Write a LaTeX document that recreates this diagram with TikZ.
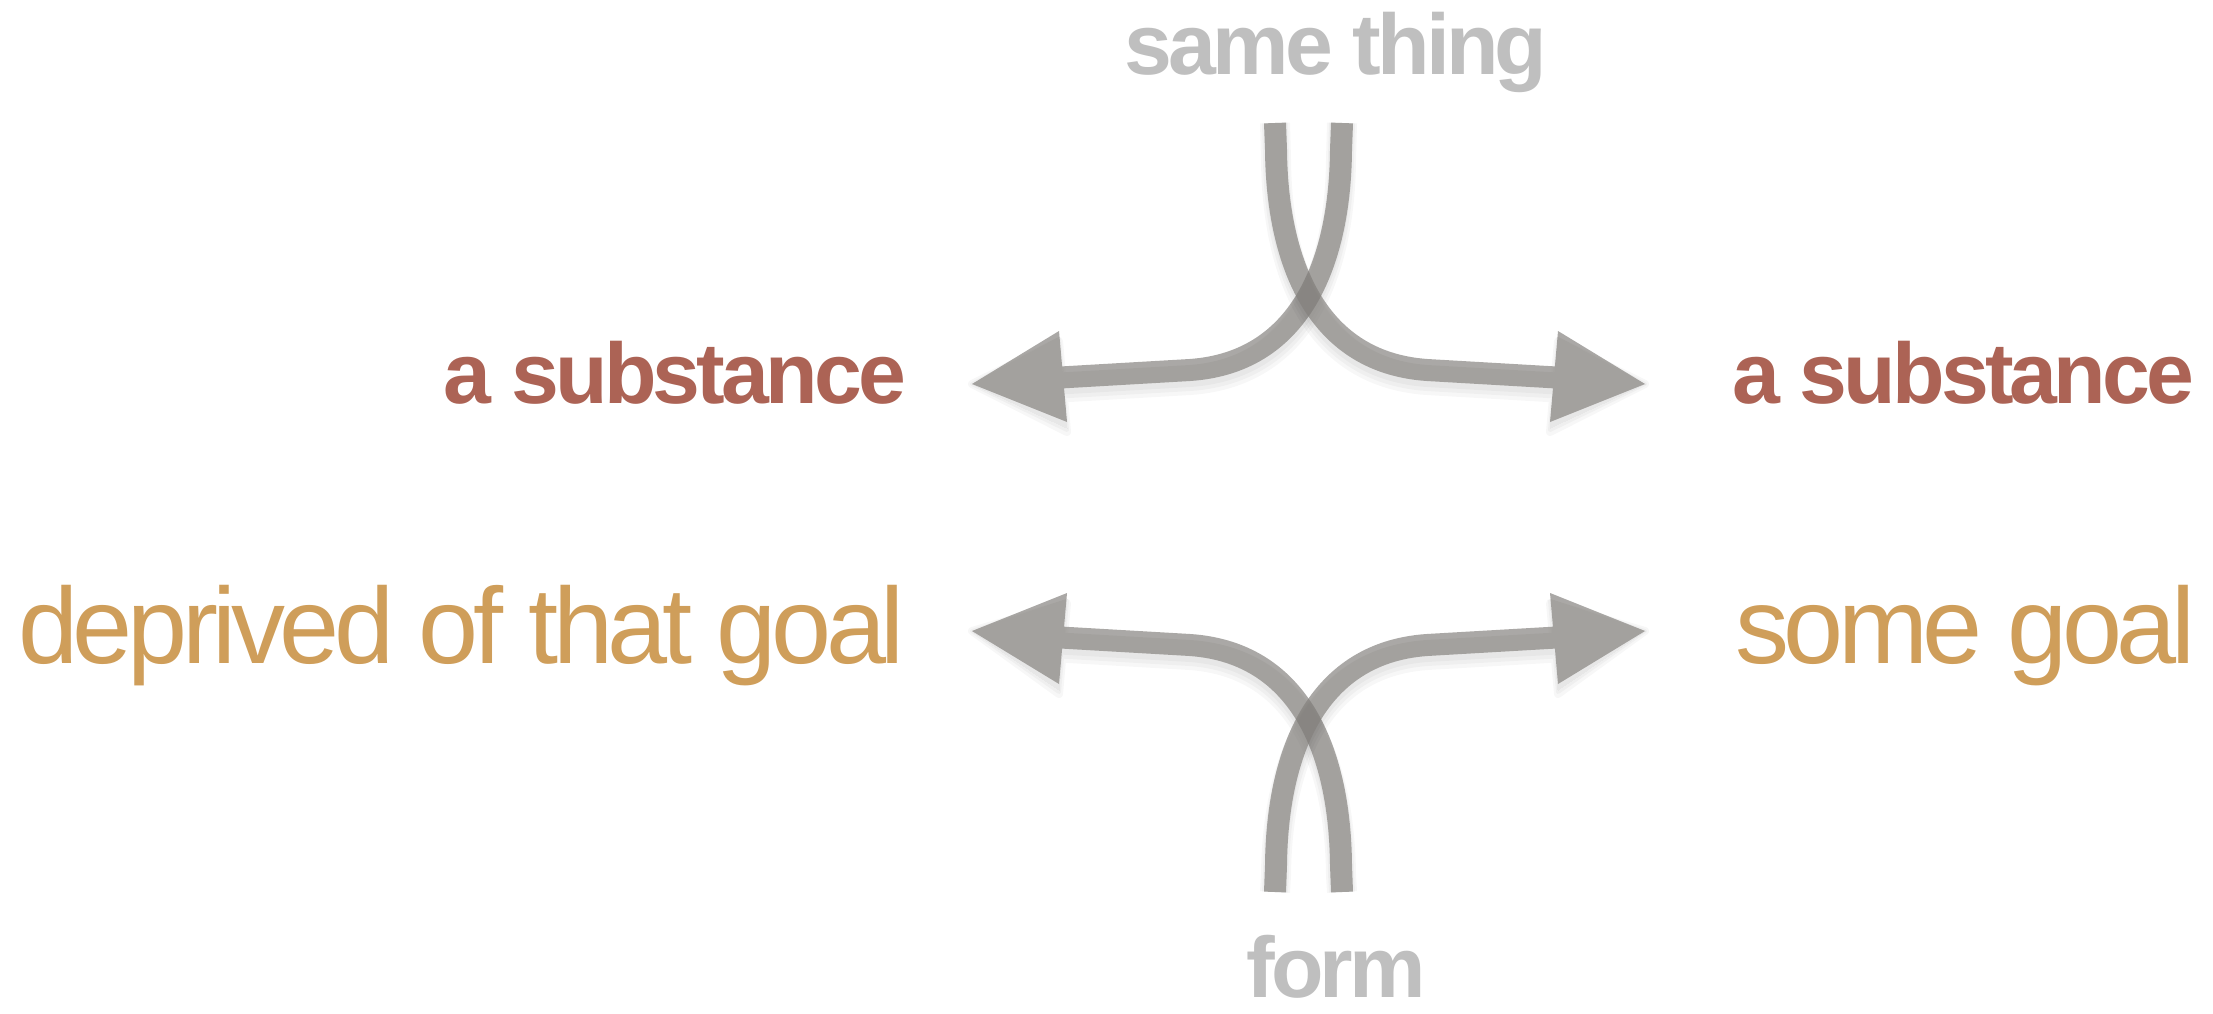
\documentclass[tikz,border=0pt]{standalone}
\usepackage{fontspec}
\setmainfont{Liberation Sans}
\newfontfamily\boldfam[LetterSpace=-4.5]{Liberation Sans}
\newfontfamily\regfam[LetterSpace=-5]{Liberation Sans}
\usetikzlibrary{arrows.meta}
\definecolor{arrowgray}{RGB}{131,128,124}
\definecolor{textgray}{RGB}{191,191,191}
\definecolor{substred}{RGB}{172,99,85}
\definecolor{goalgold}{RGB}{207,158,90}
\newcommand{\boldlbl}[1]{{\boldfam\fontsize{86}{90}\selectfont\bfseries #1}}
\newcommand{\reglbl}[1]{{\regfam\fontsize{108}{115}\selectfont #1}}
% strand paths
\newcommand{\shaftTL}{(tls) -- (1341,150) .. controls (1340,255) and (1305,362) .. (1190,370) -- (1052,378)}
\newcommand{\headTL}{(tlt) -- (1059,331) -- (1067,422) -- cycle}
\newcommand{\shaftTR}{(trs) -- (1276,150) .. controls (1277,255) and (1312,362) .. (1427,370) -- (1565,378)}
\newcommand{\headTR}{(trt) -- (1558,331) -- (1550,422) -- cycle}
\newcommand{\shaftBL}{(bls) -- (1341,865) .. controls (1340,760) and (1305,653) .. (1190,645) -- (1052,637)}
\newcommand{\headBL}{(blt) -- (1059,684) -- (1067,593) -- cycle}
\newcommand{\shaftBR}{(brs) -- (1276,865) .. controls (1277,760) and (1312,653) .. (1427,645) -- (1565,637)}
\newcommand{\headBR}{(brt) -- (1558,684) -- (1550,593) -- cycle}
\tikzset{
  shaft/.style={draw=arrowgray, line width=22pt, line cap=butt, line join=round},
  head/.style={fill=arrowgray, draw=none},
  strandgroup/.style={transparency group, opacity=0.68},
  shadowgroup/.style={transparency group, opacity=0.03},
  lbl/.style={inner sep=0pt, outer sep=0pt}
}
\newcommand{\shadowpass}[4]{%
  \begin{scope}[shadowgroup, yshift=#4]
    \draw[black, line width=#3, line cap=butt, line join=round] #1;
    \filldraw[black, line width=#3-22pt, line join=round] #2;
  \end{scope}}
\newcommand{\strandset}[2]{%
  \shadowpass{#1}{#2}{22pt}{-6pt}%
  \shadowpass{#1}{#2}{26pt}{-8pt}%
  \shadowpass{#1}{#2}{30pt}{-10pt}%
  \begin{scope}[strandgroup]
    \draw[shaft] #1;
    \fill[head] #2;
  \end{scope}}
\begin{document}
\begin{tikzpicture}[x=1pt, y=-1pt]
\useasboundingbox (0,0) rectangle (2213,1014);
\fill[white] (0,0) rectangle (2213,1014);

\coordinate (tls) at (1342,123);
\coordinate (tlt) at (972,384);
\coordinate (trs) at (1275,123);
\coordinate (trt) at (1645,384);
\coordinate (bls) at (1342,892);
\coordinate (blt) at (972,631);
\coordinate (brs) at (1275,892);
\coordinate (brt) at (1645,631);

\strandset{\shaftTL}{\headTL}
\strandset{\shaftTR}{\headTR}
\strandset{\shaftBL}{\headBL}
\strandset{\shaftBR}{\headBR}

% labels
\node[lbl, anchor=base, text=textgray] (same) at (1336,75) {\boldlbl{same thing}};
\node[lbl, anchor=base, text=textgray] (form) at (1336,997) {\boldlbl{form}};
\node[lbl, anchor=base east, text=substred] (subl) at (906,403) {\boldlbl{a substance}};
\node[lbl, anchor=base west, text=substred] (subr) at (1732,403) {\boldlbl{a substance}};
\node[lbl, anchor=base east, text=goalgold] (depr) at (905,663) {\reglbl{deprived of that goal}};
\node[lbl, anchor=base west, text=goalgold] (goal) at (1735,663) {\reglbl{some goal}};
\end{tikzpicture}
\end{document}
